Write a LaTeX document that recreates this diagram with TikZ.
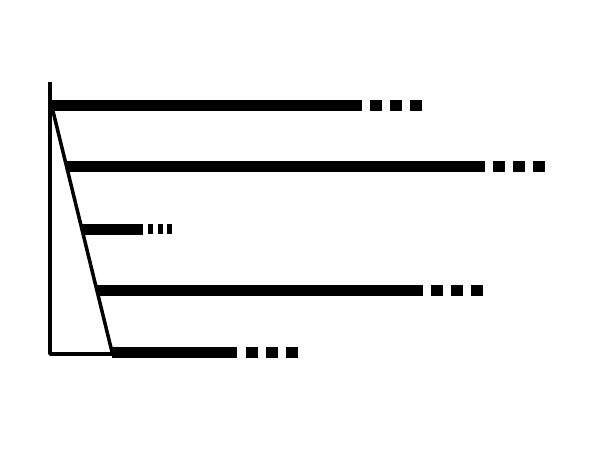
\documentclass[tikz,border=0pt]{standalone}
\begin{document}
\begin{tikzpicture}[x=1pt,y=-1pt,
  thin line/.style={line width=3.5pt,line join=round,black},
  bar/.style={line width=11pt,black},
  dotsline/.style={line width=11pt,black,dash pattern=on 12pt off 8pt},
  smalldots/.style={line width=10pt,black,dash pattern=on 5pt off 4.5pt}]
\useasboundingbox (0,0) rectangle (600,450);
% frame
\draw[thin line] (50,82) -- (50,354) -- (112,354);
\draw[thin line] (51,103) -- (112,352);
% bars
\draw[bar] (50,105) -- (362,105);
\draw[dotsline] (370,105) -- (423,105);
\draw[bar] (67,166) -- (485,166);
\draw[dotsline] (493,166) -- (546,166);
\draw[bar] (82,229) -- (143,229);
\draw[smalldots] (148,229) -- (175,229);
\draw[bar] (97,290) -- (423,290);
\draw[dotsline] (431,290) -- (484,290);
\draw[bar] (112,352) -- (237,352);
\draw[dotsline] (246,352) -- (299,352);
\end{tikzpicture}
\end{document}
